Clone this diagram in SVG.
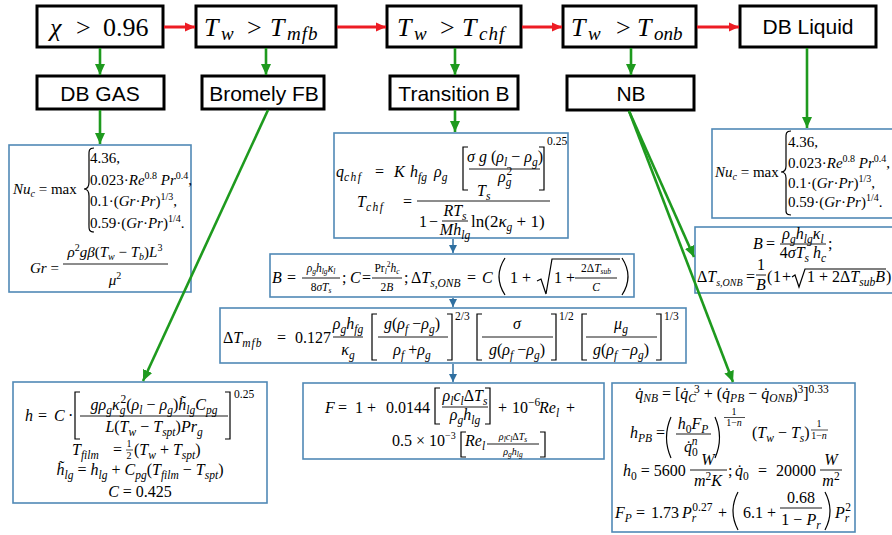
<svg xmlns="http://www.w3.org/2000/svg" width="892" height="535" viewBox="0 0 892 535">
<defs>
<style>
.bx{fill:#fff;stroke:#000;stroke-width:3}
.fb{fill:#fff;stroke:#5089b6;stroke-width:1.6}
.lab{font-family:"Liberation Sans",Arial,sans-serif;font-size:21px;text-anchor:middle;fill:#000}
.hd{font-family:"Liberation Serif","Times New Roman",serif;font-size:26px;fill:#000}
.hs{font-size:19px;font-style:italic}
.m{font-family:"Liberation Serif","Times New Roman",serif;font-size:16px;fill:#000}
.t{font-family:"Liberation Serif","Times New Roman",serif;font-size:15px;fill:#000}
.i{font-style:italic}
.s{font-size:11.5px}
.ss{font-size:10px}
.xs{font-size:7.5px}
.c{text-anchor:middle}
.bar{stroke:#000;stroke-width:0.9}
.br{fill:none;stroke:#000;stroke-width:1.2}
.red{stroke:#ed1c24;stroke-width:3;fill:none;marker-end:url(#ar)}
.grn{stroke:#1e9a1e;stroke-width:2.6;fill:none;marker-end:url(#ag)}
.blu{stroke:#2f6fa0;stroke-width:1.5;fill:none;marker-end:url(#ab)}
</style>
<marker id="ar" markerUnits="userSpaceOnUse" markerWidth="10" markerHeight="10" refX="10" refY="5" orient="auto"><path d="M0,0.5 L10,5 L0,9.5z" fill="#ed1c24"/></marker>
<marker id="ag" markerUnits="userSpaceOnUse" markerWidth="11" markerHeight="11" refX="11" refY="5.5" orient="auto"><path d="M0,0.5 L11,5.5 L0,10.5z" fill="#1e9a1e"/></marker>
<marker id="ab" markerUnits="userSpaceOnUse" markerWidth="8" markerHeight="8" refX="8" refY="4" orient="auto"><path d="M0,0 L8,4 L0,8z" fill="#2f6fa0"/></marker>
</defs>
<rect x="0" y="0" width="892" height="535" fill="#fff"/>

<g id="n-quality">
<rect class="bx" x="37" y="6" width="126" height="41"/>
<text class="hd" y="36"><tspan x="50" class="i">χ</tspan><tspan x="76">&gt;</tspan><tspan x="103">0.96</tspan></text>
</g>
<g id="n-tmfb">
<rect class="bx" x="196" y="6" width="140" height="41"/>
<text class="hd" y="36"><tspan x="204" class="i">T</tspan><tspan x="221" class="hs" dy="4">w</tspan><tspan x="247" dy="-4">&gt;</tspan><tspan x="270" class="i">T</tspan><tspan x="287" class="hs" dy="4" style="letter-spacing:1px">mfb</tspan></text>
</g>
<g id="n-tchf">
<rect class="bx" x="387" y="6" width="134" height="41"/>
<text class="hd" y="36"><tspan x="397" class="i">T</tspan><tspan x="414" class="hs" dy="4">w</tspan><tspan x="440" dy="-4">&gt;</tspan><tspan x="462" class="i">T</tspan><tspan x="479" class="hs" dy="4" style="letter-spacing:1px">chf</tspan></text>
</g>
<g id="n-tonb">
<rect class="bx" x="563" y="6" width="133" height="41"/>
<text class="hd" y="36"><tspan x="571" class="i">T</tspan><tspan x="588" class="hs" dy="4">w</tspan><tspan x="616" dy="-4">&gt;</tspan><tspan x="637" class="i">T</tspan><tspan x="654" class="hs" dy="4">onb</tspan></text>
</g>
<g id="n-dbliquid">
<rect class="bx" x="740" y="6" width="136" height="41"/>
<text class="lab" x="808" y="34">DB Liquid</text>
</g>

<g id="n-dbgas">
<rect class="bx" x="37" y="76" width="127" height="33"/>
<text class="lab" x="100" y="101">DB GAS</text>
</g>
<g id="n-bromley">
<rect class="bx" x="202" y="76" width="122" height="33"/>
<text class="lab" x="264" y="101">Bromely FB</text>
</g>
<g id="n-transition">
<rect class="bx" x="390" y="76" width="128" height="33"/>
<text class="lab" x="454" y="101">Transition B</text>
</g>
<g id="n-nb">
<rect class="bx" x="567" y="76" width="127" height="34"/>
<text class="lab" x="631" y="101">NB</text>
</g>

<g id="f-nu-gas">
<rect class="fb" x="9" y="145" width="182" height="147"/>
<text class="t" x="13" y="194"><tspan class="i">Nu</tspan><tspan class="i ss" dy="3">c</tspan><tspan dy="-3"> = max</tspan></text>
<path class="br" d="M94,148 C88,148 89,152 89,158 L89,182 C89,187 87,189 84,189 C87,189 89,191 89,196 L89,222 C89,228 88,232 94,232"/>
<text class="t" x="90" y="163">4.36,</text>
<text class="t" x="90" y="185">0.023·<tspan class="i">Re</tspan><tspan class="ss" dy="-6">0.8</tspan><tspan dy="6"> </tspan><tspan class="i">Pr</tspan><tspan class="ss" dy="-6">0.4</tspan><tspan dy="6">,</tspan></text>
<text class="t" x="90" y="206">0.1·(<tspan class="i">Gr</tspan>·<tspan class="i">Pr</tspan>)<tspan class="ss" dy="-6">1/3</tspan><tspan dy="6">,</tspan></text>
<text class="t" x="90" y="228">0.59·(<tspan class="i">Gr</tspan>·<tspan class="i">Pr</tspan>)<tspan class="ss" dy="-6">1/4</tspan><tspan dy="6">.</tspan></text>
<text class="t" x="30" y="273"><tspan class="i">Gr</tspan> =</text>
<text class="t c" x="115" y="257"><tspan class="i">ρ</tspan><tspan class="ss" dy="-6">2</tspan><tspan class="i" dy="6">gβ</tspan>(<tspan class="i">T</tspan><tspan class="ss i" dy="3">w</tspan><tspan dy="-3"> − </tspan><tspan class="i">T</tspan><tspan class="ss i" dy="3">b</tspan><tspan dy="-3">)</tspan><tspan class="i">L</tspan><tspan class="ss" dy="-6">3</tspan></text>
<line class="bar" x1="63" y1="264" x2="168" y2="264"/>
<text class="t c" x="115" y="285"><tspan class="i">μ</tspan><tspan class="ss" dy="-6">2</tspan></text>
</g>

<g id="f-nu-liquid">
<rect class="fb" x="712" y="129" width="190" height="89"/>
<text class="t" x="715" y="177"><tspan class="i">Nu</tspan><tspan class="i ss" dy="3">c</tspan><tspan dy="-3"> = max</tspan></text>
<path class="br" d="M791,131 C785,131 786,135 786,141 L786,166 C786,170 784,172 781,172 C784,172 786,174 786,178 L786,206 C786,212 785,215 791,215"/>
<text class="t" x="788" y="147">4.36,</text>
<text class="t" x="788" y="168">0.023·<tspan class="i">Re</tspan><tspan class="ss" dy="-6">0.8</tspan><tspan dy="6"> </tspan><tspan class="i">Pr</tspan><tspan class="ss" dy="-6">0.4</tspan><tspan dy="6">,</tspan></text>
<text class="t" x="788" y="188">0.1·(<tspan class="i">Gr</tspan>·<tspan class="i">Pr</tspan>)<tspan class="ss" dy="-6">1/3</tspan><tspan dy="6">,</tspan></text>
<text class="t" x="788" y="207">0.59·(<tspan class="i">Gr</tspan>·<tspan class="i">Pr</tspan>)<tspan class="ss" dy="-6">1/4</tspan><tspan dy="6">.</tspan></text>
</g>

<g id="f-chf">
<rect class="fb" x="334" y="133" width="234" height="105"/>
<text class="m" y="177"><tspan x="336" class="i">q</tspan><tspan class="i s" dy="4" style="letter-spacing:1.5px">chf</tspan><tspan x="375" dy="-4">=</tspan><tspan x="394" class="i">K</tspan><tspan x="410" class="i">h</tspan><tspan class="i s" dy="4">fg</tspan><tspan x="434" dy="-4" class="i">ρ</tspan><tspan class="i s" dy="4">g</tspan></text>
<path class="br" d="M468,147 L463,147 L463,190 L468,190"/>
<text class="m c" x="505" y="162"><tspan class="i">σ g</tspan> (<tspan class="i">ρ</tspan><tspan class="i s" dy="4">l</tspan><tspan dy="-4"> − </tspan><tspan class="i">ρ</tspan><tspan class="i s" dy="4">g</tspan><tspan dy="-4">)</tspan></text>
<line class="bar" x1="469" y1="169" x2="540" y2="169"/>
<text class="m" x="498" y="182"><tspan class="i">ρ</tspan><tspan class="i s" dy="4">g</tspan><tspan class="s" dx="-5" dy="-11">2</tspan></text>
<path class="br" d="M539,147 L544,147 L544,190 L539,190"/>
<text class="m s" x="547" y="145">0.25</text>
<text class="m" y="207"><tspan x="357" class="i">T</tspan><tspan class="i s" dy="4" style="letter-spacing:1.5px">chf</tspan><tspan x="403" dy="-4">=</tspan></text>
<line class="bar" x1="417" y1="201" x2="550" y2="201"/>
<text class="m" x="477" y="196"><tspan class="i">T</tspan><tspan class="i s" dy="4">s</tspan></text>
<text class="m" y="227"><tspan x="419">1</tspan><tspan x="429">−</tspan></text>
<text class="m c" x="455" y="216"><tspan class="i">RT</tspan><tspan class="i s" dy="4">s</tspan></text>
<line class="bar" x1="442" y1="221" x2="468" y2="221"/>
<text class="m c" x="455" y="235"><tspan class="i">Mh</tspan><tspan class="i s" dy="4">lg</tspan></text>
<text class="m" x="471" y="227" style="font-size:17px">ln(2<tspan class="i">κ</tspan><tspan class="i s" dy="4">g</tspan><tspan dy="-4"> + 1)</tspan></text>
</g>

<g id="f-onb">
<rect class="fb" x="270" y="254" width="364" height="43"/>
<text class="m" y="283"><tspan x="272" class="i">B</tspan><tspan x="287">=</tspan></text>
<text class="m s c" x="321" y="272"><tspan class="i">ρ</tspan><tspan class="xs i" dy="2">g</tspan><tspan class="i" dy="-2">h</tspan><tspan class="xs i" dy="2">lg</tspan><tspan class="i" dy="-2">κ</tspan><tspan class="xs i" dy="2">l</tspan></text>
<line class="bar" x1="302" y1="278" x2="340" y2="278"/>
<text class="m s c" x="321" y="291">8<tspan class="i">σT</tspan><tspan class="xs i" dy="2">s</tspan></text>
<text class="m" y="283"><tspan x="342">;</tspan><tspan x="350" class="i">C</tspan><tspan x="362">=</tspan></text>
<text class="m s c" x="387" y="272">Pr<tspan class="xs i" dy="2">l</tspan><tspan class="xs" dy="-7">2</tspan><tspan class="i" dy="5">h</tspan><tspan class="xs i" dy="2">c</tspan></text>
<line class="bar" x1="372" y1="278" x2="402" y2="278"/>
<text class="m s c" x="387" y="291">2<tspan class="i">B</tspan></text>
<text class="m" y="283"><tspan x="404">;</tspan><tspan x="411">Δ</tspan><tspan class="i">T</tspan><tspan class="i s" dy="4">s,ONB</tspan><tspan x="467" dy="-4">=</tspan><tspan x="482" class="i">C</tspan><tspan x="510">1 +</tspan><tspan x="554">1 +</tspan></text>
<path class="br" d="M505,258 Q493,276.5 505,295"/>
<path class="br" d="M537,281 L541,279 L546,294 L552,259 L620,259"/>
<text class="m s c" x="596" y="272">2Δ<tspan class="i">T</tspan><tspan class="xs i" dy="2">sub</tspan></text>
<line class="bar" x1="575" y1="278" x2="617" y2="278"/>
<text class="m s c i" x="596" y="291">C</text>
<path class="br" d="M622,258 Q634,276.5 622,295"/>
</g>

<g id="f-mfb">
<rect class="fb" x="220" y="308" width="466" height="55"/>
<text class="m" y="343"><tspan x="223">Δ</tspan><tspan class="i">T</tspan><tspan class="i s" dy="4" style="letter-spacing:1px">mfb</tspan><tspan x="277" dy="-4">=</tspan><tspan x="295">0.127</tspan></text>
<text class="m c" x="348" y="329"><tspan class="i">ρ</tspan><tspan class="i s" dy="4">g</tspan><tspan class="i" dy="-4">h</tspan><tspan class="i s" dy="4">fg</tspan></text>
<line class="bar" x1="333" y1="337" x2="363" y2="337"/>
<text class="m c" x="348" y="355"><tspan class="i">κ</tspan><tspan class="i s" dy="4">g</tspan></text>
<path class="br" d="M377,314 L372,314 L372,360 L377,360"/>
<text class="m c" x="412" y="329"><tspan class="i">g</tspan>(<tspan class="i">ρ</tspan><tspan class="i s" dy="4">f</tspan><tspan dy="-4"> −</tspan><tspan class="i">ρ</tspan><tspan class="i s" dy="4">g</tspan><tspan dy="-4">)</tspan></text>
<line class="bar" x1="378" y1="337" x2="448" y2="337"/>
<text class="m c" x="412" y="355"><tspan class="i">ρ</tspan><tspan class="i s" dy="4">f</tspan><tspan dy="-4"> +</tspan><tspan class="i">ρ</tspan><tspan class="i s" dy="4">g</tspan></text>
<path class="br" d="M447,314 L452,314 L452,360 L447,360"/>
<text class="m s" x="455" y="320">2/3</text>
<path class="br" d="M482,314 L477,314 L477,360 L482,360"/>
<text class="m c i" x="517" y="329">σ</text>
<line class="bar" x1="482" y1="337" x2="553" y2="337"/>
<text class="m c" x="517" y="355"><tspan class="i">g</tspan>(<tspan class="i">ρ</tspan><tspan class="i s" dy="4">f</tspan><tspan dy="-4"> −</tspan><tspan class="i">ρ</tspan><tspan class="i s" dy="4">g</tspan><tspan dy="-4">)</tspan></text>
<path class="br" d="M551,314 L556,314 L556,360 L551,360"/>
<text class="m s" x="559" y="320">1/2</text>
<path class="br" d="M587,314 L582,314 L582,360 L587,360"/>
<text class="m c" x="621" y="329"><tspan class="i">μ</tspan><tspan class="i s" dy="4">g</tspan></text>
<line class="bar" x1="586" y1="337" x2="657" y2="337"/>
<text class="m c" x="621" y="355"><tspan class="i">g</tspan>(<tspan class="i">ρ</tspan><tspan class="i s" dy="4">f</tspan><tspan dy="-4"> −</tspan><tspan class="i">ρ</tspan><tspan class="i s" dy="4">g</tspan><tspan dy="-4">)</tspan></text>
<path class="br" d="M656,314 L661,314 L661,360 L656,360"/>
<text class="m s" x="664" y="320">1/3</text>
</g>

<g id="f-bromley">
<rect class="fb" x="13" y="382" width="254" height="121"/>
<text class="m" y="421"><tspan x="25" class="i">h</tspan><tspan x="38">=</tspan><tspan x="54" class="i">C</tspan><tspan x="68">·</tspan></text>
<path class="br" d="M80,392 L75,392 L75,439 L80,439"/>
<text class="m c" x="154" y="410"><tspan class="i">gρ</tspan><tspan class="i s" dy="4">g</tspan><tspan class="i" dy="-4">κ</tspan><tspan class="i s" dy="4">g</tspan><tspan class="s" dx="-5" dy="-11">2</tspan><tspan dy="7">(</tspan><tspan class="i">ρ</tspan><tspan class="i s" dy="4">l</tspan><tspan dy="-4"> − </tspan><tspan class="i">ρ</tspan><tspan class="i s" dy="4">g</tspan><tspan dy="-4">)</tspan><tspan class="i">h&#x303;</tspan><tspan class="i s" dy="4">lg</tspan><tspan class="i" dy="-4">C</tspan><tspan class="i s" dy="4">pg</tspan></text>
<line class="bar" x1="80" y1="416" x2="228" y2="416"/>
<text class="m c" x="154" y="432"><tspan class="i">L</tspan>(<tspan class="i">T</tspan><tspan class="i s" dy="4">w</tspan><tspan dy="-4"> − </tspan><tspan class="i">T</tspan><tspan class="i s" dy="4">spt</tspan><tspan dy="-4">)</tspan><tspan class="i">Pr</tspan><tspan class="i s" dy="4">g</tspan></text>
<path class="br" d="M225,392 L230,392 L230,439 L225,439"/>
<text class="m s" x="234" y="398">0.25</text>
<text class="m" y="455"><tspan x="72" class="i">T</tspan><tspan class="i s" dy="4">film</tspan><tspan x="113" dy="-4">=</tspan></text>
<text class="m ss c" x="129" y="447">1</text>
<line class="bar" x1="126" y1="450" x2="133" y2="450" style="stroke-width:0.7"/>
<text class="m ss c" x="129" y="459">2</text>
<text class="m" x="134" y="455">(<tspan class="i">T</tspan><tspan class="i s" dy="4">w</tspan><tspan dy="-4"> + </tspan><tspan class="i">T</tspan><tspan class="i s" dy="4">spt</tspan><tspan dy="-4">)</tspan></text>
<text class="m c" x="140" y="475"><tspan class="i">h&#x303;</tspan><tspan class="i s" dy="4">lg</tspan><tspan dy="-4"> = </tspan><tspan class="i">h</tspan><tspan class="i s" dy="4">lg</tspan><tspan dy="-4"> + </tspan><tspan class="i">C</tspan><tspan class="i s" dy="4">pg</tspan><tspan dy="-4">(</tspan><tspan class="i">T</tspan><tspan class="i s" dy="4">film</tspan><tspan dy="-4"> − </tspan><tspan class="i">T</tspan><tspan class="i s" dy="4">spt</tspan><tspan dy="-4">)</tspan></text>
<text class="m c" x="140" y="497"><tspan class="i">C</tspan> = 0.425</text>
</g>

<g id="f-factor">
<rect class="fb" x="303" y="383" width="301" height="76"/>
<text class="m" y="413"><tspan x="325" class="i">F</tspan><tspan x="338">=</tspan><tspan x="355">1</tspan><tspan x="367">+</tspan><tspan x="386">0.0144</tspan></text>
<path class="br" d="M440,388 L435,388 L435,424 L440,424"/>
<text class="m c" x="465" y="401"><tspan class="i">ρ</tspan><tspan class="i s" dy="4">l</tspan><tspan class="i" dy="-4">c</tspan><tspan class="i s" dy="4">l</tspan><tspan dy="-4">Δ</tspan><tspan class="i">T</tspan><tspan class="i s" dy="4">s</tspan></text>
<line class="bar" x1="442" y1="407" x2="488" y2="407"/>
<text class="m c" x="465" y="420"><tspan class="i">ρ</tspan><tspan class="i s" dy="4">g</tspan><tspan class="i" dy="-4">h</tspan><tspan class="i s" dy="4">lg</tspan></text>
<path class="br" d="M485,388 L490,388 L490,424 L485,424"/>
<text class="m" y="413"><tspan x="498">+</tspan><tspan x="512">10</tspan><tspan class="s" dy="-7">−6</tspan><tspan class="i" x="539" dy="7">Re</tspan><tspan class="i s" dy="4">l</tspan><tspan x="566" dy="-4">+</tspan></text>
<text class="m" y="446"><tspan x="392">0.5 × 10</tspan><tspan class="ss" dy="-7">−3</tspan></text>
<path class="br" d="M466,432 L461,432 L461,457 L466,457"/>
<text class="m" x="465" y="446"><tspan class="i">Re</tspan><tspan class="i s" dy="4">l</tspan></text>
<text class="m ss c" x="513" y="440"><tspan class="i">ρ</tspan><tspan class="i xs" dy="2">l</tspan><tspan class="i" dy="-2">c</tspan><tspan class="i xs" dy="2">l</tspan><tspan dy="-2">Δ</tspan><tspan class="i">T</tspan><tspan class="i xs" dy="2">s</tspan></text>
<line class="bar" x1="487" y1="444" x2="539" y2="444"/>
<text class="m ss c" x="513" y="455"><tspan class="i">ρ</tspan><tspan class="i xs" dy="2">g</tspan><tspan class="i" dy="-2">h</tspan><tspan class="i xs" dy="2">lg</tspan></text>
<path class="br" d="M540,432 L545,432 L545,457 L540,457"/>
</g>

<g id="f-nb">
<rect class="fb" x="612" y="383" width="243" height="149"/>
<text class="m c" x="732" y="399"><tspan class="i">q&#x307;</tspan><tspan class="i s" dy="3">NB</tspan><tspan dy="-3"> = [</tspan><tspan class="i">q&#x307;</tspan><tspan class="i s" dy="3">C</tspan><tspan class="s" dx="-2" dy="-9">3</tspan><tspan dy="6"> + (</tspan><tspan class="i">q&#x307;</tspan><tspan class="i s" dy="3">PB</tspan><tspan dy="-3"> − </tspan><tspan class="i">q&#x307;</tspan><tspan class="i s" dy="3">ONB</tspan><tspan dy="-3">)</tspan><tspan class="s" dy="-6">3</tspan><tspan dy="6">]</tspan><tspan class="s" dy="-6">0.33</tspan></text>
<text class="m" x="630" y="438"><tspan class="i">h</tspan><tspan class="i s" dy="4">PB</tspan><tspan dy="-4"> =</tspan></text>
<path class="br" d="M671,417 Q662,437.5 671,458"/>
<text class="m c" x="693" y="429"><tspan class="i">h</tspan><tspan class="s" dy="4">0</tspan><tspan class="i" dy="-4">F</tspan><tspan class="i s" dy="4">P</tspan></text>
<line class="bar" x1="676" y1="434" x2="711" y2="434"/>
<text class="m" x="684" y="452"><tspan class="i">q&#x307;</tspan><tspan class="s" dy="4">0</tspan><tspan class="i s" dx="-6" dy="-11">n</tspan></text>
<path class="br" d="M715,417 Q724,437.5 715,458"/>
<text class="m ss c" x="734" y="415">1</text>
<line class="bar" x1="724" y1="417.5" x2="745" y2="417.5" style="stroke-width:0.7"/>
<text class="m ss c" x="734" y="426">1−<tspan class="i">n</tspan></text>
<text class="m" x="752" y="438">(<tspan class="i">T</tspan><tspan class="i s" dy="4">w</tspan><tspan dy="-4"> − </tspan><tspan class="i">T</tspan><tspan class="i s" dy="4">s</tspan><tspan dy="-4">)</tspan></text>
<text class="m ss c" x="819" y="427">1</text>
<line class="bar" x1="811" y1="430" x2="828" y2="430" style="stroke-width:0.7"/>
<text class="m ss c" x="819" y="439">1−<tspan class="i">n</tspan></text>
<text class="m" x="623" y="476"><tspan class="i">h</tspan><tspan class="s" dy="4">0</tspan><tspan dy="-4"> = 5600</tspan></text>
<text class="m c i" x="708" y="465">W</text>
<line class="bar" x1="690" y1="470" x2="727" y2="470"/>
<text class="m c" x="708" y="486"><tspan class="i">m</tspan><tspan class="s" dy="-6">2</tspan><tspan class="i" dy="6">K</tspan></text>
<text class="m" y="476"><tspan x="728">;</tspan><tspan x="735" class="i">q&#x307;</tspan><tspan class="s" dy="4">0</tspan><tspan x="758" dy="-4">=</tspan><tspan x="776">20000</tspan></text>
<text class="m c i" x="831" y="465">W</text>
<line class="bar" x1="820" y1="470" x2="842" y2="470"/>
<text class="m c" x="831" y="486"><tspan class="i">m</tspan><tspan class="s" dy="-6">2</tspan></text>
<text class="m" y="518"><tspan x="615" class="i">F</tspan><tspan class="i s" dy="4">P</tspan><tspan x="636" dy="-4">=</tspan><tspan x="651">1.73</tspan><tspan x="682" class="i">P</tspan><tspan class="i s" dy="4">r</tspan><tspan class="s" dx="-4" dy="-11">0.27</tspan><tspan x="718" dy="7">+</tspan><tspan x="743">6.1 +</tspan></text>
<path class="br" d="M738,492 Q728,511 738,530"/>
<text class="m c" x="801" y="503">0.68</text>
<line class="bar" x1="780" y1="508" x2="822" y2="508"/>
<text class="m c" x="801" y="525">1 − <tspan class="i">P</tspan><tspan class="i s" dy="4">r</tspan></text>
<path class="br" d="M825,492 Q835,511 825,530"/>
<text class="m" x="835" y="518"><tspan class="i">P</tspan><tspan class="i s" dy="4">r</tspan><tspan class="s" dx="-4" dy="-11">2</tspan></text>
</g>

<g id="f-onb-nb">
<rect class="fb" x="695" y="227" width="200" height="66"/>
<text class="m" y="249"><tspan x="753" class="i">B</tspan><tspan x="766">=</tspan></text>
<text class="m c" x="803" y="239"><tspan class="i">ρ</tspan><tspan class="i s" dy="4">g</tspan><tspan class="i" dy="-4">h</tspan><tspan class="i s" dy="4">lg</tspan><tspan class="i" dy="-4">κ</tspan><tspan class="i s" dy="4">l</tspan></text>
<line class="bar" x1="780" y1="244" x2="826" y2="244"/>
<text class="m c" x="803" y="258">4<tspan class="i">σT</tspan><tspan class="i s" dy="4">s</tspan><tspan class="i" dy="-4"> h</tspan><tspan class="i s" dy="4">c</tspan></text>
<text class="m" x="828" y="249">;</text>
<text class="m" y="282"><tspan x="697">Δ</tspan><tspan class="i">T</tspan><tspan class="i ss" dy="4">s,ONB</tspan><tspan x="746" dy="-4">=</tspan><tspan x="767">(</tspan><tspan x="773">1</tspan><tspan x="782">+</tspan><tspan x="807">1 + 2Δ</tspan><tspan class="i">T</tspan><tspan class="i s" dy="4">sub</tspan><tspan class="i" dy="-4">B</tspan><tspan x="886">)</tspan></text>
<text class="m c" x="761" y="270">1</text>
<line class="bar" x1="756" y1="275" x2="766" y2="275"/>
<text class="m c i" x="761" y="290">B</text>
<path class="br" d="M792,277 L795,275 L799,287 L805,269 L886,269"/>
</g>

<g id="connectors">
<line class="red" x1="164" y1="27" x2="195" y2="27"/>
<line class="red" x1="337" y1="27" x2="386" y2="27"/>
<line class="red" x1="522" y1="27" x2="562" y2="27"/>
<line class="red" x1="697" y1="27" x2="739" y2="27"/>
<line class="grn" x1="100" y1="48" x2="100" y2="75"/>
<line class="grn" x1="266" y1="48" x2="266" y2="75"/>
<line class="grn" x1="455" y1="48" x2="455" y2="75"/>
<line class="grn" x1="631" y1="48" x2="631" y2="75"/>
<line class="grn" x1="100" y1="110" x2="100" y2="144"/>
<line class="grn" x1="268" y1="110" x2="143" y2="381"/>
<line class="grn" x1="455" y1="110" x2="455" y2="132"/>
<line class="grn" x1="629" y1="111" x2="694" y2="257"/>
<line class="grn" x1="629" y1="111" x2="733" y2="382"/>
<line class="grn" x1="807" y1="48" x2="807" y2="128"/>
<line class="blu" x1="453" y1="239" x2="453" y2="253"/>
<line class="blu" x1="453" y1="298" x2="453" y2="307"/>
<line class="blu" x1="453" y1="364" x2="453" y2="382"/>
</g>
</svg>
